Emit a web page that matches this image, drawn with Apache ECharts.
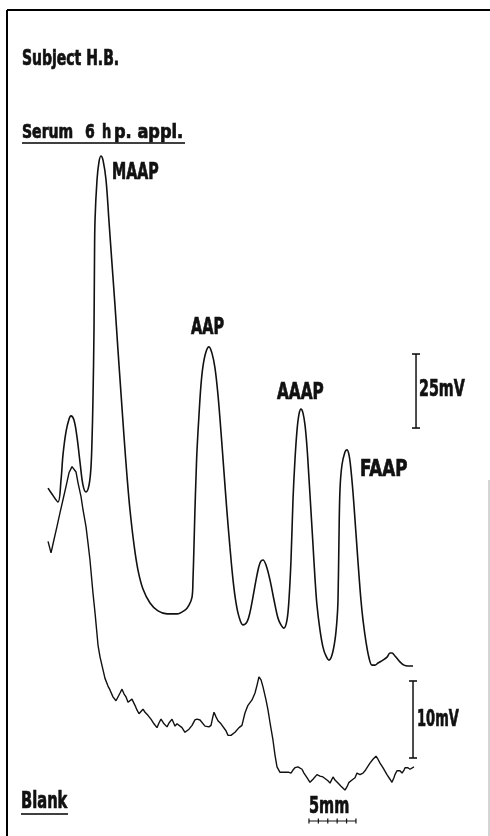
<!DOCTYPE html>
<html>
<head>
<meta charset="utf-8">
<title>Subject H.B.</title>
<script src="https://cdn.jsdelivr.net/npm/echarts@6/dist/echarts.min.js"></script>
<style>
html, body { margin: 0; padding: 0; background: #fff; }
#chart { width: 490px; height: 836px; }
</style>
</head>
<body>
<div id="chart"></div>
<script>
// Serum 6 h p. appl. -- x: chart paper (mm), y: mV
var serumMm = [5.11, 5.53, 6.17, 6.49, 6.70, 7.02, 7.34, 7.55, 7.87, 8.19, 8.51, 8.83, 9.15, 9.47, 9.68, 9.79, 9.89, 10.00, 10.05, 10.11,
	10.32, 10.53, 10.74, 10.96, 11.28, 11.60, 11.91, 12.23, 12.55, 12.87, 13.19, 13.51, 13.83, 14.26, 14.68, 15.21, 15.96, 16.81, 17.77, 18.83,
	19.68, 20.11, 20.43, 20.53, 20.64, 20.74, 20.85, 20.96, 21.17, 21.38, 21.60, 21.91, 22.23, 22.55, 22.87, 23.19, 23.51, 23.83, 24.15, 24.47,
	24.79, 25.11, 25.43, 25.85, 26.28, 26.60, 26.91, 27.34, 27.66, 27.98, 28.30, 28.72, 29.15, 29.57, 29.89, 30.21, 30.53, 30.74, 30.96, 31.17,
	31.38, 31.60, 31.81, 32.02, 32.23, 32.45, 32.66, 32.87, 33.09, 33.30, 33.51, 33.72, 34.04, 34.36, 34.68, 35.00, 35.32, 35.64, 35.85, 35.96,
	36.06, 36.17, 36.38, 36.70, 36.91, 37.13, 37.34, 37.55, 37.77, 37.98, 38.19, 38.40, 38.62, 38.94, 39.26, 39.57, 39.89, 40.21, 40.74, 41.17,
	41.49, 41.70, 42.02, 42.55, 42.98, 43.40, 43.94];
var serumMv = [60.1, 58.1, 55.4, 62.8, 71.3, 79.1, 83.4, 84.5, 83.1, 77.4, 68.9, 61.1, 58.8, 61.1, 67.2, 76.4, 89.9, 113.5, 136.1, 150.7,
	164.2, 170.3, 172.3, 170.9, 164.2, 150.0, 136.1, 122.0, 106.8, 92.2, 77.7, 64.2, 52.7, 40.9, 32.4, 26.0, 21.3, 18.6, 17.6, 17.6,
	18.9, 20.6, 23.3, 29.1, 40.9, 52.7, 63.5, 73.0, 84.8, 94.9, 101.4, 106.1, 107.8, 105.7, 100.7, 91.6, 79.1, 65.5, 52.0, 39.9,
	29.1, 21.3, 16.6, 13.9, 14.9, 18.2, 23.3, 30.7, 34.8, 35.8, 34.1, 29.1, 22.3, 16.2, 13.9, 12.8, 15.5, 22.3, 35.8, 56.1,
	69.6, 79.7, 85.1, 86.8, 85.5, 81.4, 74.0, 63.5, 52.0, 40.9, 29.7, 20.6, 12.2, 6.4, 3.4, 2.0, 3.7, 8.8, 15.5, 22.3,
	42.6, 59.5, 67.9, 72.3, 73.0, 71.3, 66.2, 58.8, 49.3, 39.9, 30.7, 22.3, 15.5, 8.1, 2.7, 0.3, 0.3, 1.0, 2.0, 3.0,
	4.4, 4.4, 3.4, 1.4, 0.3, 0, 0];

// Blank
var blankMm = [5.11, 5.43, 5.74, 6.06, 6.38, 6.70, 7.02, 7.34, 7.66, 7.87, 8.09, 8.30, 8.62, 8.83, 9.15, 9.36, 9.57, 9.89, 10.11, 10.43,
	10.64, 10.96, 11.17, 11.49, 11.70, 12.02, 12.34, 12.55, 12.77, 12.98, 13.19, 13.40, 13.62, 13.83, 14.04, 14.15, 14.36, 14.57, 14.79, 15.00,
	15.21, 15.43, 15.74, 16.06, 16.38, 16.70, 16.91, 17.13, 17.45, 17.77, 17.98, 18.30, 18.51, 18.62, 18.83, 19.04, 19.36, 19.68, 19.89, 20.11,
	20.43, 20.74, 20.96, 21.28, 21.49, 21.81, 22.02, 22.23, 22.45, 22.66, 22.77, 22.98, 23.19, 23.51, 23.72, 24.04, 24.26, 24.57, 25.00, 25.43,
	25.74, 26.06, 26.38, 26.81, 27.13, 27.34, 27.55, 27.77, 27.98, 28.30, 28.51, 28.72, 29.04, 29.26, 29.47, 29.79, 30.00, 30.32, 30.53, 30.74,
	30.96, 31.17, 31.38, 31.70, 31.91, 32.13, 32.34, 32.66, 32.98, 33.30, 33.72, 34.04, 34.36, 34.57, 34.89, 35.11, 35.43, 35.64, 35.96, 36.28,
	36.49, 36.70, 36.91, 37.13, 37.45, 37.77, 37.98, 38.30, 38.62, 38.83, 39.15, 39.36, 39.68, 40.00, 40.21, 40.43, 40.74, 41.17, 41.49, 41.70,
	41.91, 42.02, 42.23, 42.34, 42.55, 42.77, 42.98, 43.09, 43.40, 43.62, 43.83, 44.04];
var blankMv = [29.7, 28.2, 29.9, 31.6, 33.4, 35.1, 36.8, 38.6, 39.4, 39.5, 38.7, 37.3, 35.5, 33.8, 31.6, 29.5, 27.3, 23.0, 20.4, 16.2,
	14.7, 13.0, 11.9, 10.9, 10.4, 9.5, 9.0, 9.1, 10.0, 10.5, 9.9, 9.5, 8.8, 8.6, 9.2, 9.2, 8.4, 7.8, 7.3, 7.5,
	7.9, 7.5, 7.1, 6.6, 6.0, 5.5, 6.1, 6.6, 6.0, 5.6, 6.1, 6.6, 6.0, 5.7, 6.0, 5.8, 5.5, 4.9, 4.8, 5.3,
	5.8, 6.5, 6.6, 6.5, 6.4, 5.7, 5.6, 5.6, 5.8, 7.0, 7.5, 6.9, 6.4, 6.0, 5.8, 5.1, 4.5, 4.5, 4.9, 5.5,
	5.8, 7.4, 8.4, 9.1, 10.0, 11.0, 12.1, 11.7, 10.8, 9.1, 7.8, 6.2, 3.9, 1.9, 0.4, -0.3, -0.5, -0.3, -0.1, -0.3,
	-0.4, 0, 0.3, 0.4, 0.5, 0.1, -0.4, -1.0, -1.6, -1.2, -0.6, -0.8, -0.9, -1.0, -1.4, -1.7, -0.9, -1.3, -1.7, -2.1,
	-2.3, -2.6, -2.2, -1.6, -1.3, -1.0, -0.4, -0.6, -0.4, -0.1, 0.5, 0.9, 1.4, 1.8, 1.4, 0.9, 0.3, -0.6, -1.2, -1.6,
	-1.0, -0.6, -0.1, 0.1, -0.1, -0.4, 0, 0.3, 0.3, 0.1, 0.3, 0.4];

// scale bars
var bar25 = { mm: 44.26, mv: [80.4, 105.4] };
var bar10 = { mm: 43.94, mv: [1.56, 11.56] };
var bar5mm = { mm: [32.87, 33.87, 34.87, 35.87, 36.87, 37.87], mv: -6.62 };

function zip(xs, ys) {
	var out = [];
	for (var i = 0; i < xs.length; i++) out.push([xs[i], ys[i]]);
	return out;
}

var ink = '#111';
var fam = '"DejaVu Sans Condensed", "DejaVu Sans", sans-serif';

// bold condensed labels, squeezed horizontally
function label(text, x, y, size, sx) {
	return {
		type: 'text', x: x, y: y, scaleX: sx || 1,
		style: {
			text: text, fill: ink, stroke: ink, lineWidth: 0.7,
			fontSize: size, fontWeight: 'bold', fontFamily: fam, verticalAlign: 'middle'
		}
	};
}
function rule(x1, y1, x2, y2, w, c) {
	return { type: 'line', shape: { x1: x1, y1: y1, x2: x2, y2: y2 }, style: { stroke: c || '#000', lineWidth: w || 1.5 } };
}

var chart = echarts.init(document.getElementById('chart'));
chart.setOption({
	animation: false,
	grid: { left: 0, right: 0, top: 0, bottom: 0 },
	xAxis: { type: 'value', min: 0, max: 52.13, show: false },
	yAxis: [
		{ type: 'value', min: -57.43, max: 225, show: false },
		{ type: 'value', min: -8.571, max: 100, show: false }
	],
	series: [
		{
			name: 'Serum', type: 'line', yAxisIndex: 0, data: zip(serumMm, serumMv),
			smooth: 0.35, showSymbol: false, lineStyle: { color: ink, width: 1.6 }
		},
		{
			name: 'Blank', type: 'line', yAxisIndex: 1, data: zip(blankMm, blankMv),
			showSymbol: false, lineStyle: { color: ink, width: 1.4 }
		},
		{
			name: '25mV', type: 'line', yAxisIndex: 0, data: [[bar25.mm, bar25.mv[0]], [bar25.mm, bar25.mv[1]]],
			symbol: 'rect', symbolSize: [8, 1.6], itemStyle: { color: ink }, lineStyle: { color: ink, width: 1.5 }
		},
		{
			name: '10mV', type: 'line', yAxisIndex: 1, data: [[bar10.mm, bar10.mv[0]], [bar10.mm, bar10.mv[1]]],
			symbol: 'rect', symbolSize: [8, 1.6], itemStyle: { color: ink }, lineStyle: { color: ink, width: 1.5 }
		},
		{
			name: '5mm', type: 'line', yAxisIndex: 1, data: bar5mm.mm.map(function (m) { return [m, bar5mm.mv]; }),
			symbol: 'rect', symbolSize: [1.2, 5], itemStyle: { color: ink }, lineStyle: { color: ink, width: 1.2 }
		}
	],
	graphic: [
		// frame
		rule(7, 10, 490, 10, 2),
		rule(7, 10, 7, 836, 2),
		rule(489, 480, 489, 836, 1, '#aaa'),
		// titles
		label('Subject H.B.', 22, 60, 21, 0.74),
		label('Serum', 22, 133, 20, 0.78),
		label('6', 85, 133, 20, 0.78),
		label('h', 102, 133, 20, 0.72),
		label('p. appl.', 114, 133, 20, 0.9),
		rule(22, 143, 185, 143, 1.5),
		label('Blank', 21, 802, 23, 0.71),
		rule(21, 814, 68, 814, 1.5),
		// peaks
		label('MAAP', 112, 173, 23, 0.69),
		label('AAP', 191, 328, 23, 0.70),
		label('AAAP', 277, 393, 23, 0.74),
		label('FAAP', 360, 470, 23, 0.81),
		// scales
		label('25mV', 419, 390, 23, 0.69),
		label('10mV', 417, 720, 23, 0.63),
		label('5mm', 309, 807, 23, 0.70)
	]
});
</script>
</body>
</html>
